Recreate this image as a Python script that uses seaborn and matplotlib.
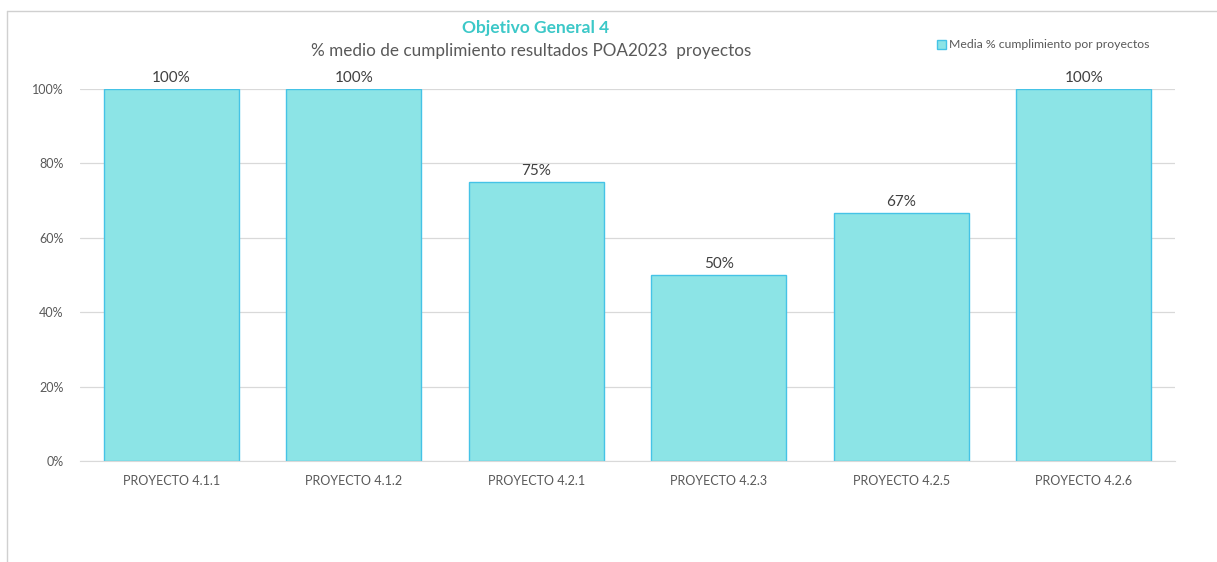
import numpy as np
import pandas as pd
import matplotlib.pyplot as plt
import seaborn as sns
from matplotlib.lines import Line2D
from matplotlib.patches import Patch

proyectos = ['PROYECTO 4.1.1', 'PROYECTO 4.1.2', 'PROYECTO 4.2.1',
             'PROYECTO 4.2.3', 'PROYECTO 4.2.5', 'PROYECTO 4.2.6']
cumplimiento = [1.00, 1.00, 0.75, 0.50, 0.6667, 1.00]

df = pd.DataFrame({'proyecto': proyectos, 'media': cumplimiento})

sns.set_style('white')
plt.rcParams['font.family'] = ['Lato', 'DejaVu Sans']

W, H = 1217, 562
fig = plt.figure(figsize=(W / 100, H / 100), dpi=100)
ax = fig.add_axes([80 / W, 1 - 461 / H, (1175 - 80) / W, (461 - 89) / H])

sns.barplot(data=df, x='proyecto', y='media', color='#8CE4E6', width=0.74,
            edgecolor='#45C3E6', linewidth=1, saturation=1, ax=ax)

ax.set_ylim(0, 1)
ax.set_xlim(-0.5, len(proyectos) - 0.5)
ax.set_yticks(np.arange(0, 1.01, 0.2))
ax.set_yticklabels([f'{int(round(t * 100))}%' for t in np.arange(0, 1.01, 0.2)])
ax.yaxis.grid(True, color='#D9D9D9', linewidth=0.9)
ax.set_axisbelow(True)
for s in ['top', 'right', 'left']:
    ax.spines[s].set_visible(False)
ax.spines['bottom'].set_color('#D9D9D9')
ax.tick_params(axis='both', length=0, labelsize=9, colors='#595959')
ax.tick_params(axis='x', pad=10)
ax.tick_params(axis='y', pad=12)
ax.set_xlabel('')
ax.set_ylabel('')

for i, v in enumerate(cumplimiento):
    ax.text(i, v + 0.012, f'{v:.0%}', ha='center', va='bottom',
            fontsize=11, color='#404040')

fig.text(536 / W, 1 - 28 / H, 'Objetivo General 4', ha='center', va='center',
         fontsize=12.5, fontweight='bold', color='#3CC8C8')
fig.text(531 / W, 1 - 51 / H, '% medio de cumplimiento resultados POA2023  proyectos',
         ha='center', va='center', fontsize=12.3, color='#595959')

handle = Patch(facecolor='#8CE4E6', edgecolor='#45C3E6', label='Media % cumplimiento por proyectos')
fig.legend(handles=[handle], loc='center left', bbox_to_anchor=(926 / W, 1 - 45 / H),
           frameon=False, fontsize=8.8, handlelength=0.7, handleheight=0.7,
           handletextpad=0.3, labelcolor='#595959')

fig.add_artist(Line2D([7 / W, 1], [1 - 11 / H, 1 - 11 / H], color='#D0D0D0', lw=1))
fig.add_artist(Line2D([7 / W, 7 / W], [0, 1 - 11 / H], color='#D0D0D0', lw=1))

fig.savefig('out.png', dpi=100)
